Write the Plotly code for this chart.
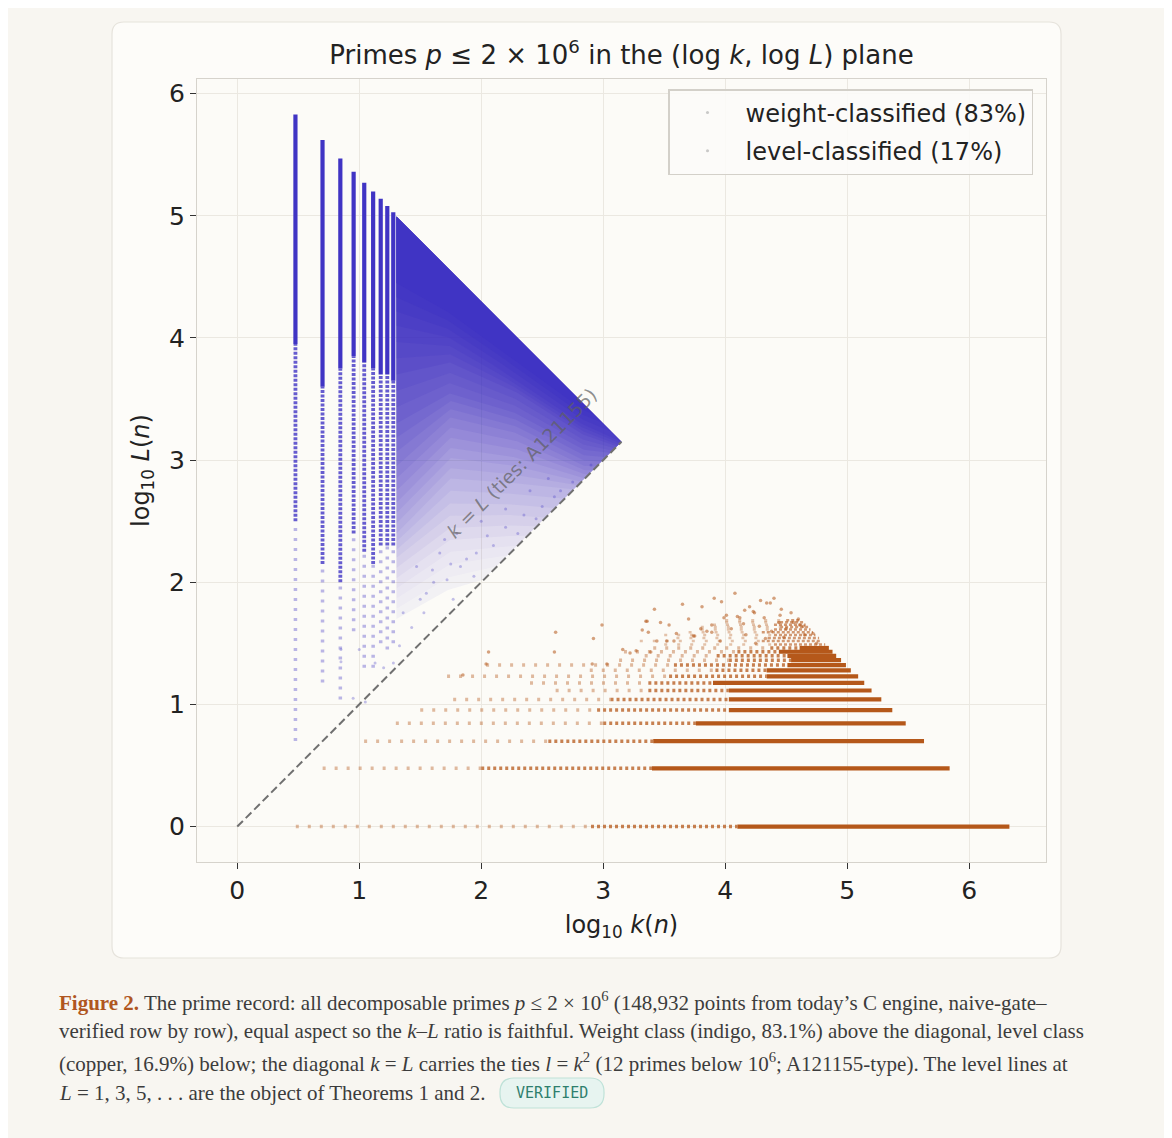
import plotly.graph_objects as go

# ---------------------------------------------------------------- data
# weight-classified: isolated columns k = 3, 5, ..., 19 (log10 k)
col_x = [0.477, 0.699, 0.845, 0.954, 1.041, 1.114, 1.176, 1.230, 1.279]
col_top = [5.83, 5.62, 5.47, 5.36, 5.27, 5.20, 5.14, 5.08, 5.03]
col_solid_bot = [3.95, 3.60, 3.75, 3.85, 3.80, 3.75, 3.70, 3.70, 3.65]
col_dense_bot = [2.50, 2.15, 2.00, 2.40, 2.25, 2.15, 2.30, 2.30, 2.30]
col_sparse_bot = [0.70, 1.18, 1.04, 1.60, 1.30, 1.30, 1.50, 1.45, 1.50]

# weight-classified: merged columns k >= 21, read as density contours
# (log L of each contour at the anchor values of log k)
tri_x0 = 1.305
log_bound = 6.30          # log10(2e6): upper edge of the cloud
band_anchor_x = [1.305, 1.75, 2.30, 2.85, 3.15]
band_edges = [
    [4.45, 4.20, 3.80, 3.40, 3.30],
    [4.10, 4.00, 3.65, 3.28, 3.15],
    [3.70, 3.80, 3.55, 3.20, 3.10],
    [3.30, 3.55, 3.38, 3.08, 3.05],
    [2.95, 3.35, 3.22, 2.95, 2.95],
    [2.65, 3.10, 3.02, 2.85, 2.85],
    [2.40, 2.85, 2.81, 2.75, 2.75],
    [2.20, 2.55, 2.55, 2.50, 2.50],
    [1.95, 2.25, 2.30, 2.30, 2.30],
    [1.70, 1.95, 2.10, 2.10, 2.10],
]
band_alpha = [1.0, 0.93, 0.85, 0.75, 0.63, 0.50, 0.37, 0.24, 0.12, 0.05]

# weight-classified: scattered points close to the diagonal
blue_dot_x = [1.50, 1.55, 1.43, 1.72, 1.88, 1.94, 1.77, 1.53, 1.61, 1.83, 1.96,
              2.05, 1.66, 1.47, 1.36, 1.33, 1.28, 1.13, 2.20, 2.35, 2.50, 2.60,
              2.75, 2.30, 2.10, 2.45, 2.65, 2.90, 2.20, 2.00, 1.70, 1.80, 2.40,
              2.55, 1.60, 1.75, 0.85, 0.85, 1.00, 0.95, 1.05, 1.20]
blue_dot_y = [1.86, 1.91, 1.63, 2.02, 2.19, 2.05, 1.86, 1.75, 2.00, 2.13, 2.24,
              2.38, 2.24, 2.13, 1.75, 1.48, 1.34, 1.34, 2.45, 2.55, 2.62, 2.70,
              2.82, 2.40, 2.30, 2.52, 2.75, 2.96, 2.60, 2.50, 2.35, 2.40, 2.75,
              2.85, 2.10, 2.15, 1.45, 1.35, 1.45, 1.05, 1.02, 1.30]

# level-classified: rows L = 1, 3, 5, ..., 29 (log10 L)
row_y = [0.000, 0.477, 0.699, 0.845, 0.954, 1.041, 1.114, 1.176, 1.230, 1.279,
         1.322, 1.362, 1.398, 1.431, 1.462]
row_end = [6.33, 5.84, 5.63, 5.48, 5.37, 5.28, 5.20, 5.14, 5.09, 5.03,
           4.99, 4.95, 4.91, 4.88, 4.85]
row_solid = [4.10, 3.40, 3.41, 3.76, 4.03, 4.03, 4.03, 3.90, 4.34, 4.34,
             4.51, 4.54, 4.51, 4.44, 4.61]
row_dense = [2.90, 2.00, 2.55, 3.00, 2.95, 3.06, 3.37, 3.37, 3.54, 3.92,
             3.58, 4.03, 3.93, 4.10, 4.37]
row_sparse = [0.48, 0.70, 1.04, 1.30, 1.50, 1.77, 2.61, 2.40, 1.72, 2.89,
              2.04, 3.13, 3.34, 3.17, 3.41]

# level-classified: rows L = 31 ... 49, merging into the cloud
upper_y = [1.491, 1.519, 1.544, 1.568, 1.591, 1.613, 1.633, 1.653, 1.672, 1.690]
upper_end = [4.82, 4.79, 4.77, 4.74, 4.72, 4.70, 4.68, 4.66, 4.64, 4.62]
upper_dense = [4.40, 4.30, 4.35, 4.40, 4.30, 4.40, 4.45, 4.40, 4.45, 4.50]
upper_sparse = [3.50, 3.30, 3.60, 3.50, 3.70, 3.80, 3.80, 3.90, 4.00, 4.00]

# level-classified: scattered cloud above the rows
cu_dot_x = [4.08, 3.91, 4.29, 4.40, 4.37, 3.65, 3.81, 3.97, 3.42, 4.16, 4.24,
            4.46, 4.54, 4.10, 3.99, 4.32, 3.35, 3.47, 3.54, 2.99, 3.89, 4.44,
            4.61, 3.32, 3.37, 3.75, 3.89, 4.17, 4.65, 2.61, 2.92, 3.44, 3.58,
            3.96, 4.75, 2.06, 2.60, 3.16, 3.27, 2.04, 2.91, 3.03, 3.36, 3.60,
            3.74, 3.85, 4.01, 4.12, 4.23, 4.34, 4.45, 4.56, 4.64, 4.72, 3.22,
            3.39, 3.52, 1.85, 4.20, 4.05, 4.28, 4.38, 4.50, 4.15, 3.70, 3.80,
            4.60, 4.48, 4.33, 4.25]
cu_dot_y = [1.91, 1.87, 1.85, 1.87, 1.83, 1.82, 1.80, 1.84, 1.78, 1.77, 1.75,
            1.78, 1.75, 1.72, 1.71, 1.71, 1.68, 1.67, 1.65, 1.65, 1.65, 1.67,
            1.65, 1.61, 1.59, 1.56, 1.59, 1.57, 1.57, 1.59, 1.54, 1.52, 1.52,
            1.52, 1.50, 1.43, 1.43, 1.45, 1.44, 1.33, 1.33, 1.33, 1.68, 1.58,
            1.56, 1.60, 1.73, 1.71, 1.76, 1.83, 1.73, 1.67, 1.64, 1.58, 1.42,
            1.43, 1.52, 1.24, 1.80, 1.62, 1.64, 1.60, 1.62, 1.66, 1.70, 1.62,
            1.70, 1.55, 1.54, 1.50]

apex = 3.15
weight_share, level_share = 83, 17
ticks = [0, 1, 2, 3, 4, 5, 6]

caption_lines = [
    "<span style='color:#b0561f'><b>Figure 2.</b></span> The prime record: all "
    "decomposable primes <i>p</i> ≤ 2 × 10<sup>6</sup> (148,932 points from "
    "today’s C engine, naive-gate–",
    "verified row by row), equal aspect so the <i>k</i>–<i>L</i> ratio is "
    "faithful. Weight class (indigo, 83.1%) above the diagonal, level class",
    "(copper, 16.9%) below; the diagonal <i>k</i> = <i>L</i> carries the ties "
    "<i>l</i> = <i>k</i><sup>2</sup> (12 primes below 10<sup>6</sup>; "
    "A121155-type). The level lines at",
    "<i>L</i> = 1, 3, 5, . . . are the object of Theorems 1 and 2.",
]

# ---------------------------------------------------------------- layout
OFF = 8                       # page body margin of the html output
W, H = 1172 - OFF, 1138 - OFF
M_L, M_T = 197 - OFF, 79 - OFF
M_R, M_B = W - (1046 - OFF), H - (862 - OFF)
PW, PH = W - M_L - M_R, H - M_T - M_B

INDIGO = (64, 52, 196)
COPPER = (181, 88, 26)
FONT = "DejaVu Sans"
INK = "#222222"
SHADE_STEPS = 3               # sub-steps of the fill shading between contours


def rgba(c, a):
    return f"rgba({c[0]},{c[1]},{c[2]},{a})"


def px_x(px):
    return (px - OFF - M_L) / PW


def px_y(py):
    return (H - M_B - (py - OFF)) / PH


def rounded_rect(x0, y0, x1, y1, r):
    rx, ry = r / PW, r / PH
    X0, X1 = px_x(x0), px_x(x1)
    Y0, Y1 = px_y(y1), px_y(y0)
    return (f"M{X0 + rx},{Y0} L{X1 - rx},{Y0} Q{X1},{Y0} {X1},{Y0 + ry} "
            f"L{X1},{Y1 - ry} Q{X1},{Y1} {X1 - rx},{Y1} L{X0 + rx},{Y1} "
            f"Q{X0},{Y1} {X0},{Y1 - ry} L{X0},{Y0 + ry} Q{X0},{Y0} {X0 + rx},{Y0} Z")


def segments(x0s, x1s, y0s, y1s):
    xs, ys = [], []
    for a, b, c, d in zip(x0s, x1s, y0s, y1s):
        xs += [a, b, None]
        ys += [c, d, None]
    return xs, ys


def seg_trace(xs, ys, color, width, dash="solid"):
    return go.Scatter(x=xs, y=ys, mode="lines", showlegend=False,
                      hoverinfo="skip",
                      line=dict(color=color, width=width, dash=dash))


def edge_at(x, edge):
    for i in range(len(band_anchor_x) - 1):
        xa, xb = band_anchor_x[i], band_anchor_x[i + 1]
        if x <= xb or i == len(band_anchor_x) - 2:
            t = (x - xa) / (xb - xa)
            return edge[i] + t * (edge[i + 1] - edge[i])


def band_region(edge, steps=240):
    """part of the weight triangle lying above one density contour"""
    upper, lower = [], []
    for i in range(steps + 1):
        x = tri_x0 + (apex - tri_x0) * i / steps
        hi = log_bound - x
        lo = max(edge_at(x, edge), x)
        if lo <= hi:
            upper.append((x, hi))
            lower.append((x, lo))
    pts = upper + lower[::-1] + upper[:1]
    return [p[0] for p in pts], [p[1] for p in pts]


# soften the shading: blend neighbouring contours in a few sub-steps
shade = []
for i in range(len(band_edges)):
    shade.append((band_edges[i], band_alpha[i]))
    if i + 1 < len(band_edges):
        for s in range(1, SHADE_STEPS):
            t = s / SHADE_STEPS
            e = [a + t * (b - a) for a, b in zip(band_edges[i], band_edges[i + 1])]
            shade.append((e, band_alpha[i] + t * (band_alpha[i + 1] - band_alpha[i])))

fig = go.Figure()

# --- weight class: nested contour regions, alphas stacked
prev = 0.0
for edge, target in shade[::-1]:
    a = 1.0 if target >= 1 else 1 - (1 - target) / (1 - prev)
    prev = target
    bx, by = band_region(edge)
    fig.add_trace(go.Scatter(
        x=bx, y=by, mode="lines", fill="toself",
        fillcolor=rgba(INDIGO, round(a, 3)), line=dict(width=0),
        showlegend=False, hoverinfo="skip"))

# --- weight class: isolated columns
xs, ys = segments(col_x, col_x, col_sparse_bot, col_dense_bot)
fig.add_trace(seg_trace(xs, ys, rgba(INDIGO, 0.35), 3.5, "3px,7px"))
xs, ys = segments(col_x, col_x, col_dense_bot, col_solid_bot)
fig.add_trace(seg_trace(xs, ys, rgba(INDIGO, 0.8), 3.8, "3px,1.5px"))
xs, ys = segments(col_x, col_x, col_solid_bot, col_top)
fig.add_trace(seg_trace(xs, ys, rgba(INDIGO, 1), 4.2))

fig.add_trace(go.Scatter(x=blue_dot_x, y=blue_dot_y, mode="markers",
                         marker=dict(size=3, color=rgba(INDIGO, 0.3)),
                         showlegend=False, hoverinfo="skip"))

# --- level class: rows
xs, ys = segments(row_sparse, row_dense, row_y, row_y)
fig.add_trace(seg_trace(xs, ys, rgba(COPPER, 0.4), 3.5, "3px,9px"))
xs, ys = segments(row_dense, row_solid, row_y, row_y)
fig.add_trace(seg_trace(xs, ys, rgba(COPPER, 0.75), 3.5, "3px,3px"))
xs, ys = segments(row_solid, row_end, row_y, row_y)
fig.add_trace(seg_trace(xs, ys, rgba(COPPER, 1), 4.2))

xs, ys = segments(upper_sparse, upper_dense, upper_y, upper_y)
fig.add_trace(seg_trace(xs, ys, rgba(COPPER, 0.35), 2.5, "3px,10px"))
xs, ys = segments(upper_dense, upper_end, upper_y, upper_y)
fig.add_trace(seg_trace(xs, ys, rgba(COPPER, 0.6), 2.5, "3px,2px"))

fig.add_trace(go.Scatter(x=cu_dot_x, y=cu_dot_y, mode="markers",
                         marker=dict(size=3.5, color=rgba(COPPER, 0.55)),
                         showlegend=False, hoverinfo="skip"))

# --- diagonal k = L
fig.add_trace(go.Scatter(x=[0, apex], y=[0, apex], mode="lines",
                         line=dict(color="#707070", width=2, dash="8px,4px"),
                         showlegend=False, hoverinfo="skip"))

# --- legend entries
fig.add_trace(go.Scatter(x=[None], y=[None], mode="markers",
                         name=f"weight-classified ({weight_share}%)",
                         legendgroup="w",
                         marker=dict(size=3, color="rgba(150,150,150,0.5)")))
fig.add_trace(go.Scatter(x=[None], y=[None], mode="markers",
                         name=f"level-classified ({level_share}%)",
                         legendgroup="l",
                         marker=dict(size=3, color="rgba(150,150,150,0.5)")))

axis_common = dict(
    tickvals=ticks, ticks="outside", ticklen=6, tickwidth=1.2,
    tickcolor="#333333", showgrid=True, gridcolor="#ebe8e1", gridwidth=1.4,
    zeroline=False, showline=True, mirror=True, linecolor="#d6d3cc",
    linewidth=1.2, layer="above traces",
    tickfont=dict(family=FONT, size=25, color=INK),
)

fig.update_layout(
    width=W, height=H,
    margin=dict(l=M_L, r=M_R, t=M_T, b=M_B),
    paper_bgcolor="#f8f6f1",
    plot_bgcolor="rgba(0,0,0,0)",
    title=dict(
        text="Primes <i>p</i> ≤ 2 × 10<sup>6</sup> in the "
             "(log <i>k</i>, log <i>L</i>) plane",
        x=0.5, xref="paper", y=1 - (55 - OFF) / H, yref="container",
        xanchor="center", yanchor="middle",
        font=dict(family=FONT, size=26, color=INK)),
    xaxis=dict(range=[-0.33, 6.63],
               title=dict(text="log<sub>10</sub> <i>k</i>(<i>n</i>)",
                          font=dict(family=FONT, size=24, color=INK),
                          standoff=12),
               **axis_common),
    yaxis=dict(range=[-0.29, 6.12],
               title=dict(text="log<sub>10</sub> <i>L</i>(<i>n</i>)",
                          font=dict(family=FONT, size=24, color=INK),
                          standoff=12),
               **axis_common),
    legend=dict(x=px_x(668), y=px_y(89), xanchor="left", yanchor="top",
                bgcolor="rgba(252,251,248,0.9)", bordercolor="#d3d0c9",
                borderwidth=1.5, itemwidth=66, tracegroupgap=4,
                font=dict(family=FONT, size=24, color=INK)),
    showlegend=True,
)

shapes = [
    dict(type="path", path=rounded_rect(112, 22, 1061, 958, 12),
         xref="paper", yref="paper", fillcolor="#fdfcf9",
         line=dict(color="#e6e3dc", width=1.2), layer="below"),
    dict(type="rect", x0=0, x1=1, y0=0, y1=1, xref="paper", yref="paper",
         fillcolor="#fcfbf7", line=dict(width=0), layer="below"),
    dict(type="path", path=rounded_rect(500, 1078, 604, 1108, 14),
         xref="paper", yref="paper", fillcolor="#e7f4f0",
         line=dict(color="#bfe2d8", width=1.2), layer="above"),
]
fig.update_layout(shapes=shapes)

annotations = [
    dict(x=2.33, y=2.98, xref="x", yref="y",
         text="<i>k</i> = <i>L</i> (ties: A121155)", showarrow=False,
         textangle=-45, font=dict(family=FONT, size=19,
                                  color="rgba(95,95,95,0.7)")),
    dict(x=px_x(552), y=px_y(1093), xref="paper", yref="paper",
         text="VERIFIED", showarrow=False, xanchor="center", yanchor="middle",
         font=dict(family="DejaVu Sans Mono", size=15, color="#2f7f6d")),
]
line_y = [1001, 1031, 1062, 1093]
for txt, ly in zip(caption_lines, line_y):
    annotations.append(dict(
        x=px_x(57), y=px_y(ly), xref="paper", yref="paper", text=txt,
        showarrow=False, xanchor="left", yanchor="middle", align="left",
        font=dict(family="Liberation Serif", size=21, color="#3c3c3c")))
fig.update_layout(annotations=annotations)

fig.write_html("out.html")
